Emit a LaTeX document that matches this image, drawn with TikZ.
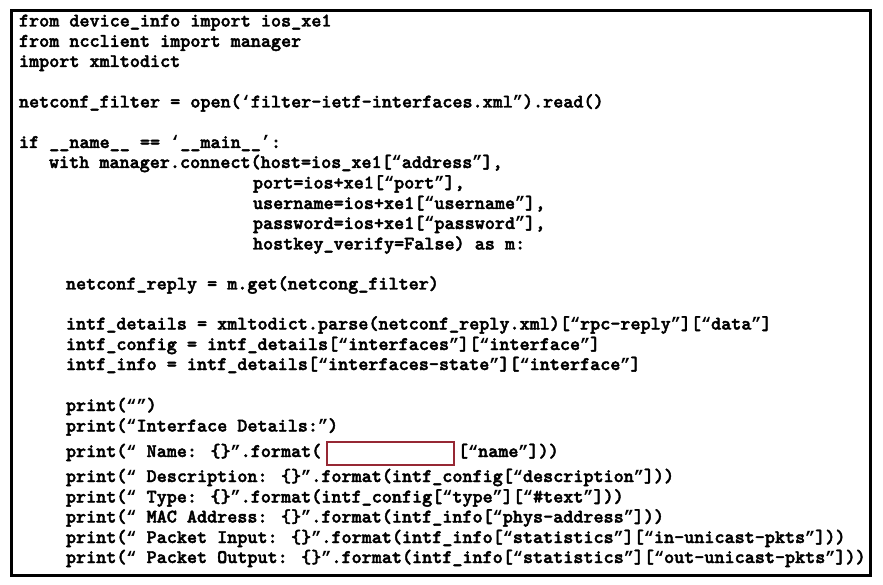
\documentclass[tikz,border=0pt]{standalone}
\usepackage{fontspec}
\newfontfamily\codefont[FakeBold=2.2]{lmmonolt10-bold.otf}
\newfontfamily\quotefont{Liberation Mono Bold}
\newcommand\qq[1]{\makebox[10.08pt][c]{\quotefont\fontsize{16.8}{20}\selectfont #1}}
\newcommand\ql{\qq{“}}
\newcommand\qr{\qq{”}}
\newcommand\sql{\qq{‘}}
\newcommand\sqr{\qq{’}}
\definecolor{boxred}{RGB}{150,40,52}
\begin{document}
\begin{tikzpicture}[x=1pt,y=-1pt,
  code/.style={anchor=base west,inner sep=0pt,outer sep=0pt,
    font=\codefont\fontsize{19.2}{20}\selectfont},
  blankbox/.style={draw=boxred,line width=1.4pt,minimum width=127pt,minimum height=23pt,inner sep=0pt}]
\useasboundingbox (0,0) rectangle (883,585);
\fill[white] (0,0) rectangle (883,585);
\draw[line width=3pt] (11,11) rectangle (870.5,575);
\node[code] (l1) at (19,26.5) {from device\_info import ios\_xe1};
\node[code] (l2) at (19,46.8) {from ncclient import manager};
\node[code] (l3) at (19,67) {import xmltodict};
\node[code] (l5) at (19,107.5) {netconf\_filter = open(\sql filter-ietf-interfaces.xml\qr).read()};
\node[code] (l7) at (19,148) {if \_\_name\_\_ == \sql\_\_main\_\_\sqr:};
\node[code] (l8) at (49,168) {with manager.connect(host=ios\_xe1[\ql address\qr],};
\node[code] (l9) at (253,188.5) {port=ios+xe1[\ql port\qr],};
\node[code] (l10) at (253,209) {username=ios+xe1[\ql username\qr],};
\node[code] (l11) at (253,229) {password=ios+xe1[\ql password\qr],};
\node[code] (l12) at (253,249.5) {hostkey\_verify=False) as m:};
\node[code] (l14) at (66,289.5) {netconf\_reply = m.get(netcong\_filter)};
\node[code] (l16) at (66,329.5) {intf\_details = xmltodict.parse(netconf\_reply.xml)[\ql rpc-reply\qr][\ql data\qr]};
\node[code] (l17) at (66,350) {intf\_config = intf\_details[\ql interfaces\qr][\ql interface\qr]};
\node[code] (l18) at (66,370) {intf\_info = intf\_details[\ql interfaces-state\qr][\ql interface\qr]};
\node[code] (l20) at (66,411) {print(\ql\qr)};
\node[code] (l21) at (66,431.5) {print(\ql Interface Details:\qr)};
\node[code] (l22) at (66,457) {print(\ql{} Name: \{\}\qr.format(};
\node[blankbox] (blank) at (390.5,453.5) {};
\node[code] (l22b) at (458,457) {[\ql name\qr]))};
\node[code] (l23) at (66,482) {print(\ql{} Description: \{\}\qr.format(intf\_config[\ql description\qr]))};
\node[code] (l24) at (66,502.5) {print(\ql{} Type: \{\}\qr.format(intf\_config[\ql type\qr][\ql\#text\qr]))};
\node[code] (l25) at (66,522.5) {print(\ql{} MAC Address: \{\}\qr.format(intf\_info[\ql phys-address\qr]))};
\node[code] (l26) at (66,543) {print(\ql{} Packet Input: \{\}\qr.format(intf\_info[\ql statistics\qr][\ql in-unicast-pkts\qr]))};
\node[code] (l27) at (66,563) {print(\ql{} Packet Output: \{\}\qr.format(intf\_info[\ql statistics\qr][\ql out-unicast-pkts\qr]))};
\end{tikzpicture}
\end{document}
